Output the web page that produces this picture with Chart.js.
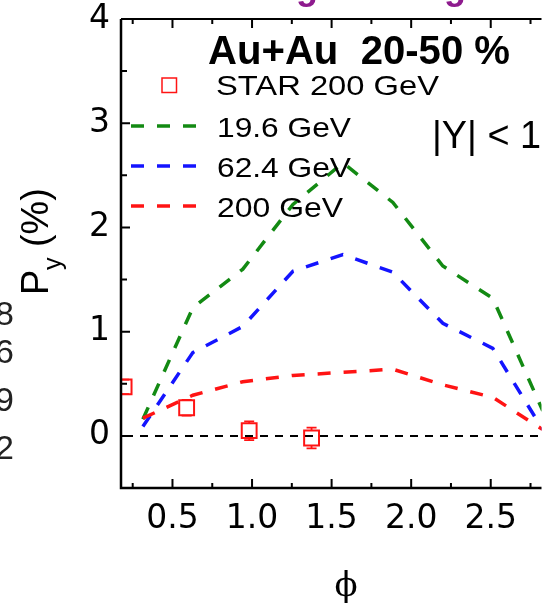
<!DOCTYPE html>
<html>
<head>
<meta charset="utf-8">
<script src="https://cdn.jsdelivr.net/npm/chart.js@4.4.1/dist/chart.umd.min.js"></script>
<style>
  html, body { margin: 0; padding: 0; background: #fff; }
  #wrap { width: 554px; height: 604px; }
</style>
</head>
<body>
<div id="wrap"><canvas id="chart" width="554" height="604"></canvas></div>
<script>
// ===============================
// Data
// ===============================
const phi = [0.314, 0.628, 0.942, 1.257, 1.571, 1.885, 2.199, 2.513, 2.827];
const py196 = [0.16, 1.23, 1.60, 2.22, 2.62, 2.24, 1.63, 1.32, 0.24];
const py624 = [0.09, 0.80, 1.05, 1.58, 1.74, 1.57, 1.08, 0.84, 0.06];
const py200 = [0.17, 0.39, 0.52, 0.58, 0.61, 0.64, 0.49, 0.37, 0.06];

const starPhi = [0.196, 0.589, 0.982, 1.374];
const starPy = [0.47, 0.27, 0.05, -0.02];
const starErr = [0.07, 0.075, 0.09, 0.10];

const xTicks = [0.5, 1.0, 1.5, 2.0, 2.5];
const yTicks = [0, 1, 2, 3, 4];
const seriesLabels = ["STAR 200 GeV", "19.6 GeV", "62.4 GeV", "200 GeV"];

const GREEN = "#138a13";
const BLUE = "#1414ff";
const RED = "#ff1414";
const SANS = "'Liberation Sans', Arial, sans-serif";

function toXY(xs, ys) {
  return xs.map((x, i) => ({ x: x, y: ys[i] }));
}

// draw text squeezed/stretched to a given width
function fitText(ctx, text, x, base, font, width) {
  ctx.font = font;
  const w = ctx.measureText(text).width;
  ctx.save();
  ctx.translate(x, base);
  ctx.scale(width / w, 1);
  ctx.fillText(text, 0, 0);
  ctx.restore();
}

// ===============================
// Frame, ticks, error bars, texts
// ===============================
const framePlugin = {
  id: "frame",
  beforeDatasetsDraw(chart) {
    const { ctx, chartArea: a, scales: { y } } = chart;
    const y0 = y.getPixelForValue(0);
    ctx.save();
    ctx.strokeStyle = "#000";
    ctx.lineWidth = 2;
    ctx.setLineDash([8, 7]);
    ctx.beginPath();
    ctx.moveTo(a.left + 4, y0);
    ctx.lineTo(a.right, y0);
    ctx.stroke();
    ctx.restore();
  },
  afterDatasetsDraw(chart) {
    const { ctx, chartArea: a, scales: { x, y } } = chart;
    ctx.save();

    // error bars of STAR points
    ctx.beginPath();
    ctx.rect(a.left, a.top, a.right - a.left, a.bottom - a.top);
    ctx.clip();
    ctx.strokeStyle = RED;
    ctx.lineWidth = 1.8;
    const half = 7.5;
    starPhi.forEach((p, i) => {
      const px = x.getPixelForValue(p);
      const pc = y.getPixelForValue(starPy[i]);
      const pt = y.getPixelForValue(starPy[i] + starErr[i]);
      const pb = y.getPixelForValue(starPy[i] - starErr[i]);
      ctx.beginPath();
      if (pc - pt > half) { ctx.moveTo(px, pc - half); ctx.lineTo(px, pt); }
      if (pb - pc > half) { ctx.moveTo(px, pc + half); ctx.lineTo(px, pb); }
      ctx.moveTo(px - 5, pt); ctx.lineTo(px + 5, pt);
      ctx.moveTo(px - 5, pb); ctx.lineTo(px + 5, pb);
      ctx.stroke();
    });
    ctx.restore();

    ctx.save();
    ctx.strokeStyle = "#000";
    ctx.lineWidth = 2.5;
    ctx.beginPath();
    ctx.moveTo(a.left, a.top);
    ctx.lineTo(a.left, a.bottom);
    ctx.lineTo(a.right, a.bottom);
    ctx.stroke();
    ctx.lineWidth = 2;
    ctx.beginPath();
    ctx.moveTo(a.left, a.top);
    ctx.lineTo(a.right, a.top);
    ctx.stroke();

    // x ticks (inward, bottom and top)
    const xMaj = x.ticks.map(t => t.value);
    const xMin = xMaj.map(v => v - 0.25).concat([xMaj[xMaj.length - 1] + 0.25]);
    ctx.beginPath();
    xMaj.forEach(v => {
      const px = x.getPixelForValue(v);
      ctx.moveTo(px, a.bottom); ctx.lineTo(px, a.bottom - 9);
      ctx.moveTo(px, a.top); ctx.lineTo(px, a.top + 9);
    });
    xMin.forEach(v => {
      const px = x.getPixelForValue(v);
      if (px <= a.left + 2 || px >= a.right) return;
      ctx.moveTo(px, a.bottom); ctx.lineTo(px, a.bottom - 5);
      ctx.moveTo(px, a.top); ctx.lineTo(px, a.top + 5);
    });
    // y ticks (inward, left)
    const yMaj = y.ticks.map(t => t.value);
    const yMin = yMaj.map(v => v - 0.5);
    yMaj.forEach(v => {
      const py = y.getPixelForValue(v);
      ctx.moveTo(a.left, py); ctx.lineTo(a.left + 9, py);
    });
    yMin.forEach(v => {
      const py = y.getPixelForValue(v);
      if (py >= a.bottom - 2) return;
      ctx.moveTo(a.left, py); ctx.lineTo(a.left + 6, py);
    });
    ctx.stroke();
    ctx.restore();
  },
  afterDraw(chart) {
    const { ctx } = chart;
    ctx.save();
    ctx.fillStyle = "#000";
    ctx.textBaseline = "alphabetic";
    ctx.textAlign = "left";

    // title and |Y| label
    fitText(ctx, "Au+Au  20-50 %", 208, 64, "bold 40px " + SANS, 302);
    fitText(ctx, "|Y| < 1", 432, 148, "38px " + SANS, 109);

    // legend
    ctx.strokeStyle = RED;
    ctx.lineWidth = 1.5;
    ctx.strokeRect(162, 78, 14.5, 14.5);
    fitText(ctx, seriesLabels[0], 216, 95, "28px " + SANS, 223);
    const legLines = [[GREEN, 126, 137, 134], [BLUE, 166, 177, 134], [RED, 206, 217, 126]];
    legLines.forEach((l, i) => {
      ctx.strokeStyle = l[0];
      ctx.lineWidth = 3.5;
      ctx.setLineDash([13, 13]);
      ctx.beginPath();
      ctx.moveTo(131, l[1]);
      ctx.lineTo(201, l[1]);
      ctx.stroke();
      ctx.setLineDash([]);
      fitText(ctx, seriesLabels[i + 1], 217, l[2], "28px " + SANS, l[3]);
    });

    // x-axis title
    ctx.font = "34px 'DejaVu Serif', serif";
    ctx.textAlign = "center";
    ctx.fillText("\u03D5", 346, 596);

    // y-axis title  P_y (%)
    ctx.save();
    ctx.translate(48, 295);
    ctx.rotate(-Math.PI / 2);
    ctx.textAlign = "left";
    const parts = [["P", 0, 0, 36], ["y", 25, 13, 24], ["(%)", 48, 0, 36]];
    parts.forEach(p => {
      ctx.save();
      ctx.translate(p[1], p[2]);
      ctx.scale(1.05, 1.085);
      ctx.font = p[3] + "px " + SANS;
      ctx.fillText(p[0], 0, 0);
      ctx.restore();
    });
    ctx.restore();

    // cut-off pieces of the neighbouring figure
    ctx.textAlign = "right";
    ctx.fillStyle = "#222";
    ctx.font = "34px " + SANS;
    [["8", 325], ["6", 363], ["9", 411], ["2", 459]].forEach(d => ctx.fillText(d[0], 14, d[1]));
    ctx.textAlign = "left";
    ctx.fillStyle = "#8e1b8e";
    ctx.font = "bold 36px " + SANS;
    ctx.fillText("g", 296, -1);
    ctx.fillText("g", 444, -1);
    ctx.restore();
  }
};

// ===============================
// Chart
// ===============================
new Chart(document.getElementById("chart"), {
  type: "scatter",
  data: {
    datasets: [
      {
        label: seriesLabels[0],
        data: toXY(starPhi, starPy),
        pointStyle: "rect",
        pointRadius: 10.5,
        borderColor: RED,
        borderWidth: 2,
        backgroundColor: "rgba(0,0,0,0)",
      },
      {
        label: seriesLabels[3],
        data: toXY(phi, py200),
        showLine: true,
        borderColor: RED,
        borderWidth: 3.5,
        borderDash: [13, 13],
        pointRadius: 0,
      },
      {
        label: seriesLabels[2],
        data: toXY(phi, py624),
        showLine: true,
        borderColor: BLUE,
        borderWidth: 3.5,
        borderDash: [13, 13],
        pointRadius: 0,
      },
      {
        label: seriesLabels[1],
        data: toXY(phi, py196),
        showLine: true,
        borderColor: GREEN,
        borderWidth: 3.5,
        borderDash: [13, 13],
        pointRadius: 0,
      },
    ],
  },
  options: {
    responsive: false,
    animation: false,
    devicePixelRatio: 1,
    layout: { padding: { top: 19, right: 0, bottom: 0, left: 0 } },
    plugins: { legend: { display: false }, tooltip: { enabled: false } },
    scales: {
      x: {
        type: "linear",
        min: 0.1765,
        max: 2.819,
        afterBuildTicks: (s) => { s.ticks = xTicks.map(v => ({ value: v })); },
        afterFit: (s) => { s.height = 116; s.paddingLeft = 0; s.paddingRight = 0; },
        grid: { display: false, drawTicks: false },
        border: { display: false },
        ticks: {
          font: { family: "DejaVu Sans", size: 33 },
          color: "#000",
          padding: 12,
          maxRotation: 0,
          autoSkip: false,
          callback: (v) => Number(v).toFixed(1),
        },
      },
      y: {
        type: "linear",
        min: -0.5,
        max: 4,
        afterBuildTicks: (s) => { s.ticks = yTicks.map(v => ({ value: v })); },
        afterFit: (s) => { s.width = 121; s.paddingTop = 0; s.paddingBottom = 0; },
        grid: { display: false, drawTicks: false },
        border: { display: false },
        ticks: {
          font: { family: "DejaVu Sans", size: 33 },
          color: "#000",
          padding: 11,
          autoSkip: false,
          callback: (v) => String(v),
        },
      },
    },
  },
  plugins: [framePlugin],
});
</script>
</body>
</html>
